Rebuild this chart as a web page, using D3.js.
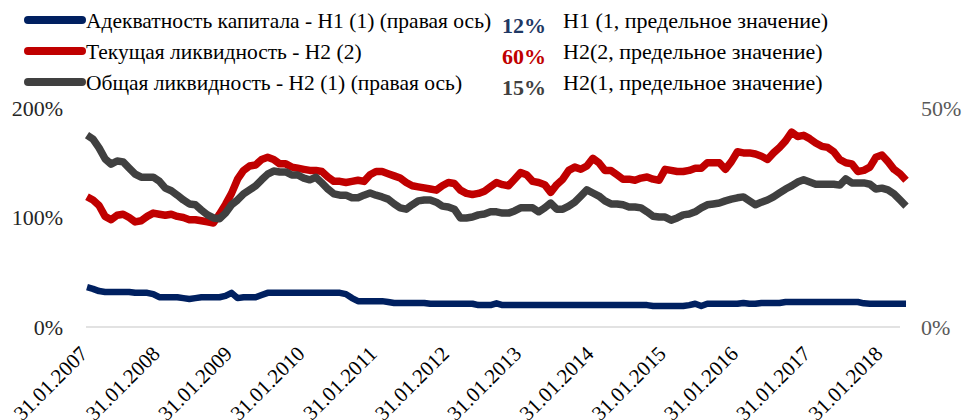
<!DOCTYPE html>
<html>
<head>
<meta charset="utf-8">
<script src="https://cdn.jsdelivr.net/npm/d3@7"></script>
<style>
  body { margin: 0; background: #fff; }
</style>
</head>
<body>
<div id="chart"></div>
<script>
// monthly points, Jan 2007 .. May 2018
var months = d3.timeMonth.range(new Date(2007, 0, 31), new Date(2018, 5, 1));
var tickLabels = ["31.01.2007", "31.01.2008", "31.01.2009", "31.01.2010", "31.01.2011", "31.01.2012",
  "31.01.2013", "31.01.2014", "31.01.2015", "31.01.2016", "31.01.2017", "31.01.2018"];
var leftTicks = [0, 100, 200];
var rightTicks = [0, 50];

// Н2 (2) current liquidity, left axis, %
var currentLiq = [119,116,111,101,98,102,103,100,96,97,
  101,104,103,102,103,101,100,98,98,97,
  96,95,103,112,122,135,143,147,148,153,
  155,153,149,149,146,145,144,143,143,142,
  137,133,133,132,133,134,133,139,142,142,
  140,138,136,132,129,128,127,126,125,129,
  132,131,125,122,121,122,124,128,132,130,
  129,135,141,139,133,132,130,123,130,135,
  143,146,144,147,154,150,143,143,139,135,
  135,134,136,137,135,134,144,143,142,142,
  143,145,145,150,150,150,144,151,160,159,
  159,158,156,153,159,164,170,178,174,175,
  172,168,165,164,160,153,150,149,142,143,
  146,155,157,151,144,140,134];

// Н2 (1) total liquidity, right axis, %
var totalLiq = [43.8,42.9,40.9,38.4,37.2,37.9,37.7,36.3,34.9,34.2,
  34.2,34.2,33.3,31.7,31.1,30.1,29.0,28.1,27.9,26.7,
  25.6,24.9,24.7,26.0,27.9,29.0,30.4,31.3,32.2,33.6,
  34.9,35.6,35.4,35.4,34.7,34.7,34.0,33.6,34.2,32.9,
  31.5,30.4,30.1,30.1,29.5,29.5,30.1,30.6,30.1,29.7,
  29.2,28.1,27.2,26.9,27.9,28.8,29.0,29.0,28.5,27.6,
  27.4,26.9,24.9,24.9,25.1,25.6,25.8,26.3,26.3,26.0,
  26.0,26.5,27.2,27.2,27.2,26.3,27.2,28.3,26.9,26.9,
  27.6,28.5,29.9,31.3,30.6,29.9,28.8,28.1,28.1,27.9,
  27.4,27.4,27.2,26.3,25.3,25.1,25.1,24.4,24.9,25.6,
  25.8,26.3,27.2,27.9,28.1,28.3,28.8,29.2,29.5,29.7,
  28.8,27.9,28.5,29.0,29.7,30.6,31.5,32.2,33.1,33.6,
  33.1,32.6,32.6,32.6,32.6,32.4,33.8,32.9,32.9,32.9,
  32.6,31.5,31.7,31.3,30.4,29.0,27.6];

// Н1 (1) capital adequacy, right axis, %
var capital = [9.1,8.7,8.2,8.0,8.0,8.0,8.0,8.0,7.8,7.8,
  7.8,7.5,6.8,6.8,6.8,6.8,6.6,6.4,6.6,6.8,
  6.8,6.8,6.8,7.1,7.8,6.6,6.8,6.8,6.8,7.3,
  7.8,7.8,7.8,7.8,7.8,7.8,7.8,7.8,7.8,7.8,
  7.8,7.8,7.8,7.5,6.6,5.9,5.9,5.9,5.9,5.9,
  5.7,5.5,5.5,5.5,5.5,5.5,5.5,5.3,5.3,5.3,
  5.3,5.3,5.3,5.3,5.3,5.0,5.0,5.0,5.4,5.0,
  5.0,5.0,5.0,5.0,5.0,5.0,5.0,5.0,5.0,5.0,
  5.0,5.0,5.0,5.0,5.0,5.0,5.0,5.0,5.0,5.0,
  5.0,5.0,5.0,5.0,4.8,4.8,4.8,4.8,4.8,4.8,
  5.0,5.3,4.8,5.3,5.3,5.3,5.3,5.3,5.3,5.5,
  5.3,5.3,5.5,5.5,5.5,5.5,5.7,5.7,5.7,5.7,
  5.7,5.7,5.7,5.7,5.7,5.7,5.7,5.7,5.7,5.4,
  5.3,5.3,5.3,5.3,5.3,5.3,5.3];

var seriesNames = ["Адекватность капитала - Н1 (1) (правая ось)", "Текущая ликвидность - Н2 (2)",
  "Общая ликвидность - Н2 (1) (правая ось)"];
var limitValues = ["12%", "60%", "15%"];
var limitNames = ["Н1 (1, предельное значение)", "Н2(2, предельное значение)", "Н2(1, предельное значение)"];
var colors = ["#002060", "#c00000", "#404040"];

var serif = "'Liberation Serif', Tinos, 'Times New Roman', serif";

var width = 966, height = 420;
var svg = d3.select("#chart").append("svg").attr("width", width).attr("height", height)
  .style("font-family", serif);

var x = d3.scaleLinear().domain([0, months.length - 1]).range([87, 900]);
var yLeft = d3.scaleLinear().domain([0, 200]).range([327, 108]);
var yRight = d3.scaleLinear().domain([0, 50]).range([327, 108]);

// baseline
svg.append("line").attr("x1", 86).attr("x2", 900)
  .attr("y1", yLeft(0)).attr("y2", yLeft(0))
  .attr("stroke", "#d9d9d9").attr("stroke-width", 1.5);

// left axis
var leftAxis = svg.append("g").attr("transform", "translate(63,0)")
  .call(d3.axisLeft(yLeft).tickValues(leftTicks).tickSize(0).tickPadding(0).tickFormat(function(d) { return d + "%"; }));
leftAxis.attr("font-family", null).style("font-family", serif);
leftAxis.select(".domain").remove();
leftAxis.selectAll("text").attr("font-size", 22).attr("fill", "#262626");

// right axis
var rightAxis = svg.append("g").attr("transform", "translate(921,0)")
  .call(d3.axisRight(yRight).tickValues(rightTicks).tickSize(0).tickPadding(0).tickFormat(function(d) { return d + "%"; }));
rightAxis.attr("font-family", null).style("font-family", serif);
rightAxis.select(".domain").remove();
rightAxis.selectAll("text").attr("font-size", 22).attr("fill", "#595959");

// x labels, one per January
svg.append("g").selectAll("text").data(tickLabels).enter().append("text")
  .attr("transform", function(d, i) { return "translate(" + (x(i * 12) + 2) + ",355) rotate(-45)"; })
  .attr("text-anchor", "end")
  .attr("font-size", 21)
  .attr("fill", "#000")
  .text(function(d) { return d; });

function drawLine(vals, scale, color, w) {
  var line = d3.line().x(function(d, i) { return x(i); }).y(function(d) { return scale(d); });
  svg.append("path").datum(vals)
    .attr("d", line)
    .attr("fill", "none")
    .attr("stroke", color)
    .attr("stroke-width", w)
    .attr("stroke-linejoin", "round")
    .attr("stroke-linecap", "butt");
}
drawLine(capital, yRight, colors[0], 6.5);
drawLine(currentLiq, yLeft, colors[1], 7.5);
drawLine(totalLiq, yRight, colors[2], 7.5);

// legend
var rowsY = [20, 51, 82];
var leg = svg.append("g").selectAll("g").data(seriesNames).enter().append("g");
leg.append("line")
  .attr("x1", 28).attr("x2", 82)
  .attr("y1", function(d, i) { return rowsY[i]; }).attr("y2", function(d, i) { return rowsY[i]; })
  .attr("stroke", function(d, i) { return colors[i]; })
  .attr("stroke-width", 8).attr("stroke-linecap", "round");
leg.append("text")
  .attr("x", 86).attr("y", function(d, i) { return rowsY[i] + 8; })
  .attr("font-size", 21.5).attr("fill", "#000")
  .text(function(d) { return d; });
leg.append("text")
  .attr("x", 546).attr("y", function(d, i) { return rowsY[i] + 13; })
  .attr("text-anchor", "end")
  .attr("font-size", 22).attr("font-weight", "bold")
  .attr("fill", function(d, i) { return i == 0 ? "#1f3864" : colors[i]; })
  .text(function(d, i) { return limitValues[i]; });
leg.append("text")
  .attr("x", 563).attr("y", function(d, i) { return rowsY[i] + 8; })
  .attr("font-size", 22).attr("fill", "#000")
  .text(function(d, i) { return limitNames[i]; });
</script>
</body>
</html>
